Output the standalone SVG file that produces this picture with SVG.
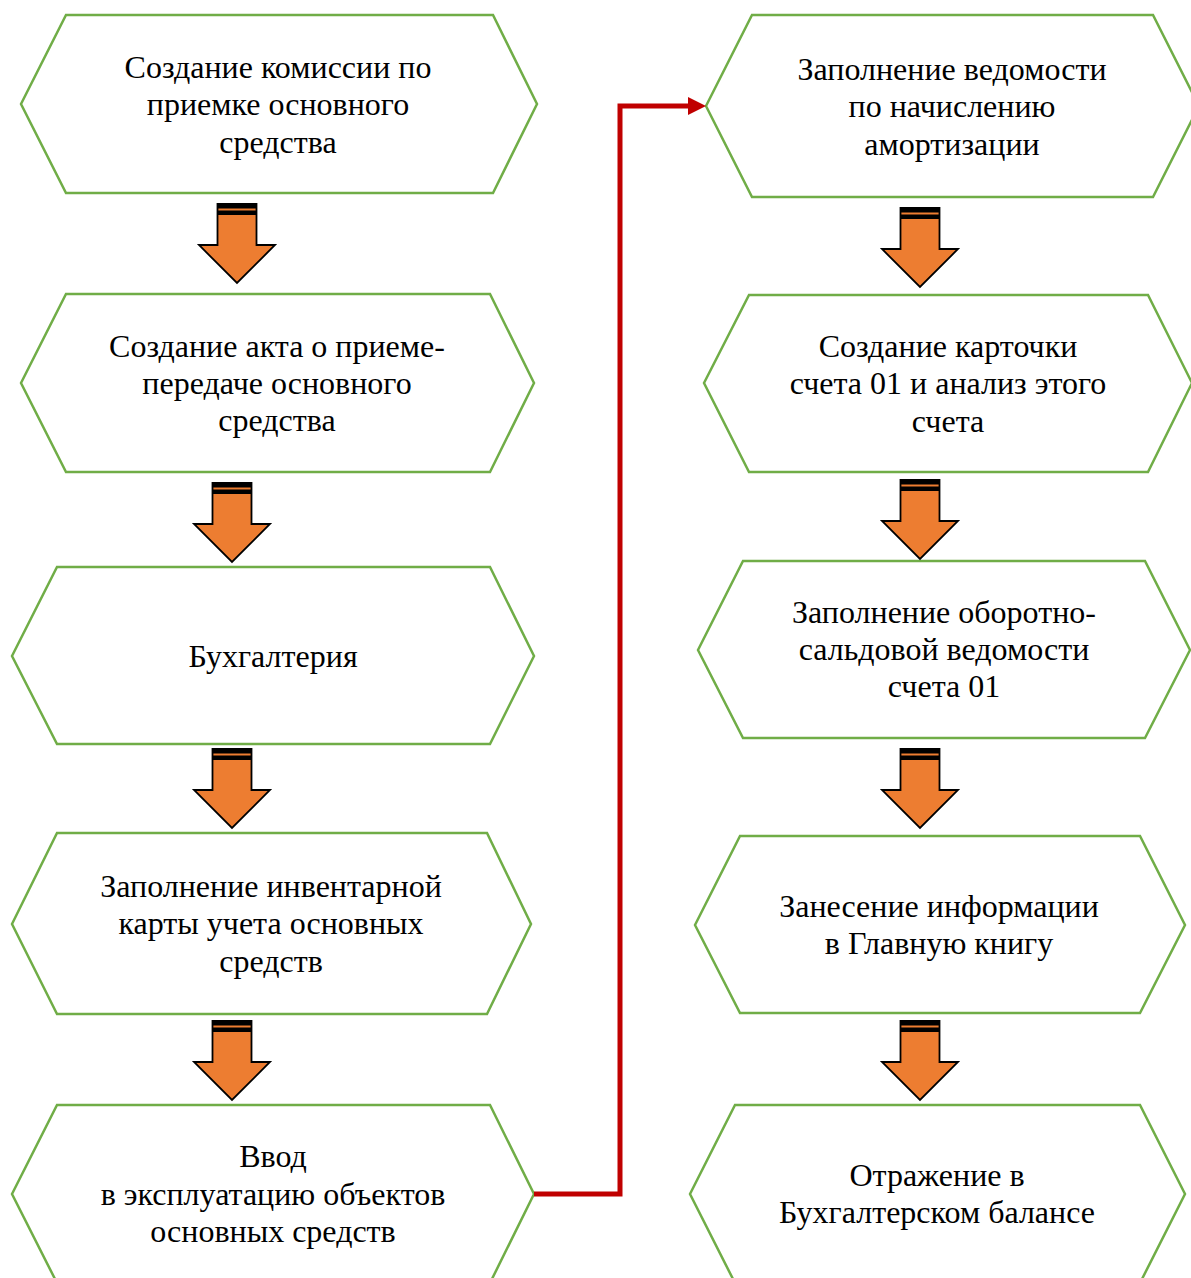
<svg xmlns="http://www.w3.org/2000/svg" width="1191" height="1278" viewBox="0 0 1191 1278">
<style>
.hex{fill:#fff;stroke:#70AD47;stroke-width:2.5;stroke-linejoin:miter}
.t{font-family:"Liberation Serif","Times New Roman",serif;font-size:32px;fill:#000;text-anchor:middle}
.ar{fill:#ED7D31;stroke:#000;stroke-width:1.8;stroke-linejoin:miter}
.conn{fill:none;stroke:#C00000;stroke-width:5}
</style>
<defs>
<g id="blk">
<polygon class="ar" points="-19.5,0 19.5,0 19.5,41 38,41 0,79 -38,41 -19.5,41"/>
<rect x="-19.5" y="0" width="39" height="4.5" fill="#000"/>
<rect x="-19.5" y="6.5" width="39" height="4.5" fill="#000"/>
</g>
</defs>

<g id="n1"><polygon class="hex" points="21,104 66,15 493,15 537,104 493,193 66,193"/>
<text class="t" x="278" y="78">Создание комиссии по</text><text class="t" x="278" y="115">приемке основного</text><text class="t" x="278" y="153">средства</text></g>
<g id="n2"><polygon class="hex" points="21,383 66,294 490,294 534,383 490,472 66,472"/>
<text class="t" x="277" y="357">Создание акта о приеме-</text><text class="t" x="277" y="394">передаче основного</text><text class="t" x="277" y="431">средства</text></g>
<g id="n3"><polygon class="hex" points="12,656 57,567 490,567 534,656 490,744 57,744"/>
<text class="t" x="273" y="667">Бухгалтерия</text></g>
<g id="n4"><polygon class="hex" points="12,924 57,833 487,833 531,924 487,1014 57,1014"/>
<text class="t" x="271" y="897">Заполнение инвентарной</text><text class="t" x="271" y="934">карты учета основных</text><text class="t" x="271" y="972">средств</text></g>
<g id="n5"><polygon class="hex" points="12,1194 57,1105 490,1105 534,1194 490,1283 57,1283"/>
<text class="t" x="273" y="1167">Ввод</text><text class="t" x="273" y="1205">в эксплуатацию объектов</text><text class="t" x="273" y="1242">основных средств</text></g>

<g id="n6"><polygon class="hex" points="706,106 752,15 1153,15 1199,106 1153,197 752,197"/>
<text class="t" x="952" y="80">Заполнение ведомости</text><text class="t" x="952" y="117">по начислению</text><text class="t" x="952" y="155">амортизации</text></g>
<g id="n7"><polygon class="hex" points="704,383 749,295 1148,295 1192,383 1148,472 749,472"/>
<text class="t" x="948" y="357">Создание карточки</text><text class="t" x="948" y="394">счета 01 и анализ этого</text><text class="t" x="948" y="432">счета</text></g>
<g id="n8"><polygon class="hex" points="698,650 743,561 1145,561 1190,650 1145,738 743,738"/>
<text class="t" x="944" y="623">Заполнение оборотно-</text><text class="t" x="944" y="660">сальдовой ведомости</text><text class="t" x="944" y="697">счета 01</text></g>
<g id="n9"><polygon class="hex" points="695,925 740,836 1140,836 1185,925 1140,1013 740,1013"/>
<text class="t" x="939" y="917">Занесение информации</text><text class="t" x="939" y="954">в Главную книгу</text></g>
<g id="n10"><polygon class="hex" points="690,1194 735,1105 1140,1105 1185,1194 1140,1283 735,1283"/>
<text class="t" x="937" y="1186">Отражение в</text><text class="t" x="937" y="1223">Бухгалтерском балансе</text></g>

<g id="connectors">
<use href="#blk" transform="translate(237,204)"/>
<use href="#blk" transform="translate(232,483)"/>
<use href="#blk" transform="translate(232,749)"/>
<use href="#blk" transform="translate(232,1021)"/>
<use href="#blk" transform="translate(920,208)"/>
<use href="#blk" transform="translate(920,480)"/>
<use href="#blk" transform="translate(920,749)"/>
<use href="#blk" transform="translate(920,1021)"/>
<polyline class="conn" points="534,1194 620,1194 620,106 690,106"/>
<polygon points="688,97 706,106 688,115" fill="#C00000"/>
</g>
</svg>
